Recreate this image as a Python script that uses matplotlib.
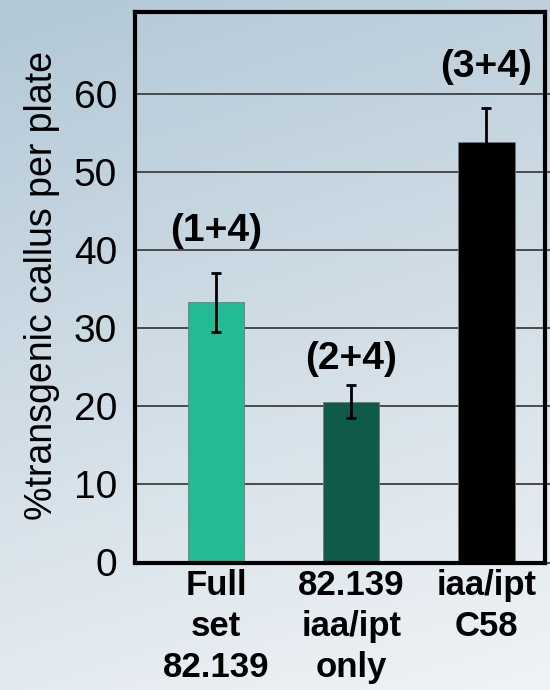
import numpy as np
import matplotlib.pyplot as plt

plt.rcParams['font.family'] = ['Liberation Sans', 'DejaVu Sans']

# bar data
groups = ['Full\nset\n82.139', '82.139\niaa/ipt\nonly', 'iaa/ipt\nC58']
percent = [33.3, 20.6, 53.8]
err = [3.8, 2.1, 4.4]
combos = ['(1+4)', '(2+4)', '(3+4)']
combo_y = [42.4, 26.0, 63.5]
colors = ['#22bb96', '#0f5a48', '#000000']
yticks = [0, 10, 20, 30, 40, 50, 60]

fig = plt.figure(figsize=(5.5, 6.9), dpi=100)

# light blue-grey gradient backdrop
bg = fig.add_axes([0, 0, 1, 1], zorder=-10)
yy, xx = np.mgrid[0:1:200j, 0:1:200j]
t = np.clip(0.8 * yy + 0.2 * xx, 0, 1)
top = np.array([178, 200, 215]) / 255
bottom = np.array([240, 243, 246]) / 255
img = top[None, None, :] * (1 - t[..., None]) + bottom[None, None, :] * t[..., None]
bg.imshow(img, aspect='auto', extent=[0, 1, 0, 1], origin='upper')
bg.axis('off')

ax = fig.add_axes([135 / 550, 1 - 562.5 / 690, 410 / 550, 550.5 / 690])
ax.set_facecolor('none')

x = np.arange(len(groups))
ax.bar(x, percent, width=0.415, color=colors, edgecolor='#777777', linewidth=0.6, zorder=3)
ax.errorbar(x, percent, yerr=err, fmt='none', ecolor='black', elinewidth=2,
            capsize=3.5, capthick=2, zorder=4)

for xi, lab, ly in zip(x, combos, combo_y):
    ax.text(xi, ly, lab, ha='center', va='center', fontsize=28, fontweight='bold')

ax.set_xlim(-0.6, 2.433)
ax.set_ylim(0, 70.5)
ax.set_yticks(yticks)
ax.yaxis.grid(True, color='#4a4a4a', linewidth=1.4, zorder=1)
ax.set_axisbelow(True)
ax.tick_params(axis='y', which='both', left=False, right=True, direction='out',
               length=5, width=1.4, color='#4a4a4a', labelsize=28, pad=8)
ax.set_xticks(x)
ax.set_xticklabels(groups, fontsize=25, fontweight='bold', linespacing=1.3)
ax.tick_params(axis='x', length=0, pad=5)

for s in ax.spines.values():
    s.set_linewidth(3)
    s.set_color('black')
    s.set_zorder(5)

fig.text(42 / 550, 1 - 285 / 690, '%transgenic callus per plate', rotation=90,
         ha='center', va='center', fontsize=27)

fig.savefig('out.png', dpi=100)
